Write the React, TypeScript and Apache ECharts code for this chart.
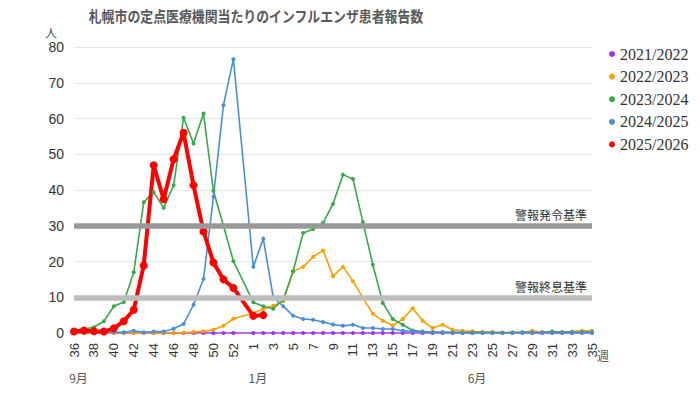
import React, { useEffect, useRef } from "react";
import * as echarts from "echarts";

const weeks: string[] = [
  "36","37","38","39","40","41","42","43","44","45","46","47","48","49","50","51","52","53",
  "1","2","3","4","5","6","7","8","9","10","11","12","13","14","15","16","17","18","19","20",
  "21","22","23","24","25","26","27","28","29","30","31","32","33","34","35",
];

const seriesNames = ["2021/2022", "2022/2023", "2023/2024", "2024/2025", "2025/2026"];
const seriesColors = ["#9b30ff", "#ff9f00", "#3aa84a", "#4a8fd6", "#ff0000"];

// weeks 36..53 (53 = no data), then 1..35
const s2021: (number | null)[] = [
  0,0,0,0,0,0,0,0,0,0,0,0,0,0,0,0,0,null,
  0,0,0,0,0,0,0,0,0,0,0,0,0,0,0,0,0,0,0,0,
  0,0,0,0,0,0,0,0,0,0,0,0,0,0,0,
];
const s2022: (number | null)[] = [
  0,0,0,0,0,0,0,0,0,0,0,0.1,0.3,0.45,0.9,2.0,4.0,null,
  5.6,6.7,7.6,8.9,17.3,18.5,21.3,23.1,15.9,18.5,14.5,9.8,5.4,3.4,2.1,3.9,6.9,3.4,1.4,2.3,
  0.9,0.6,0.5,0.3,0.3,0.1,0.1,0.1,0.6,0.2,0.2,0.3,0.4,0.6,0.6,
];
const s2023: (number | null)[] = [
  0.5,1.1,1.6,3.3,7.5,8.7,17.0,36.6,39.4,35.0,41.3,60.2,53.0,61.4,39.7,30.0,20.1,null,
  8.6,7.5,6.8,9.3,17.3,28.0,29.1,30.8,36.1,44.3,43.1,31.0,19.1,8.4,3.9,2.3,0.7,0.4,0.3,0.2,
  0.2,0.1,0.1,0.1,0.1,0.1,0.1,0.2,0.1,0.2,0.4,0.2,0.3,0.3,0.3,
];
const s2024: (number | null)[] = [
  0.3,0.3,0.2,0.2,0.3,0.2,0.65,0.2,0.4,0.4,1.2,2.5,7.9,15.1,38.1,63.7,76.6,null,
  18.5,26.4,10.0,7.5,4.8,3.9,3.7,3.1,2.4,2.0,2.3,1.4,1.4,1.1,1.1,0.6,0.5,0.3,0.2,0.2,
  0.1,0.1,0.1,0.1,0.1,0.0,0.1,0.1,0.1,0.1,0.1,0.1,0.1,0.1,0.1,
];
const s2025: (number | null)[] = [
  0.4,0.7,0.5,0.4,1.3,3.3,6.5,18.9,46.9,37.4,48.6,56.0,41.3,28.4,19.7,15.0,12.6,null,
  4.8,5.0,
];

const thresholdValues = [30, 10];
const thresholdLabels = ["警報発令基準", "警報終息基準"];
const thresholdColors = ["#999999", "#bdbdbd"];

const monthWeeks = ["36", "1", "23"];
const monthTexts = ["9月", "1月", "6月"];

const yTicks = { min: 0, max: 80, interval: 10 };

export default function App() {
  const ref = useRef<HTMLDivElement>(null);
  useEffect(() => {
    if (!ref.current) return;
    const chart = echarts.init(ref.current, null, { renderer: "svg" });
    const allData = [s2021, s2022, s2023, s2024, s2025];
    const series: any[] = allData.map((d, i) => {
      const isRed = i === 4;
      const s: any = {
        name: seriesNames[i],
        type: "line",
        data: d,
        connectNulls: true,
        symbol: "circle",
        symbolSize: isRed ? 8 : 4,
        showAllSymbol: true,
        itemStyle: { color: seriesColors[i] },
        lineStyle: { color: seriesColors[i], width: isRed ? 4 : 1.6 },
        emphasis: { disabled: true },
      };
      if (i === 3) {
        s.markLine = {
          silent: true,
          symbol: ["none", "none"],
          data: thresholdValues.map((v, k) => ({
            yAxis: v,
            lineStyle: { color: thresholdColors[k], width: 5.5, type: "solid" },
            label: {
              show: true,
              position: "insideEndTop",
              formatter: thresholdLabels[k],
              color: "#333",
              fontSize: 12,
              distance: 5,
              fontFamily: "Noto Sans CJK JP",
            },
          })),
        };
      }
      return s;
    });

    chart.setOption({
      animation: false,
      backgroundColor: "#ffffff",
      legend: {
        data: seriesNames,
        orient: "vertical",
        left: 604,
        top: 41,
        icon: "circle",
        itemWidth: 6,
        itemHeight: 6,
        itemGap: 6.6,
        textStyle: {
          fontFamily: "Liberation Serif",
          fontSize: 16,
          lineHeight: 16,
          color: "#333",
        },
      },
      grid: { left: 74, right: 108, top: 47, bottom: 61, containLabel: false },
      xAxis: [
        {
          type: "category",
          data: weeks,
          boundaryGap: false,
          axisLine: { show: true, lineStyle: { color: "#d0d0d0" } },
          axisTick: { show: false },
          axisLabel: {
            interval: 1,
            rotate: 90,
            margin: 10,
            fontSize: 13,
            color: "#333",
            fontFamily: "Liberation Sans",
          },
          splitLine: { show: false },
        },
        {
          type: "category",
          data: weeks,
          boundaryGap: false,
          position: "bottom",
          offset: 36,
          axisLine: { show: false },
          axisTick: { show: false },
          axisLabel: {
            interval: 0,
            margin: 2,
            fontSize: 12,
            color: "#555",
            padding: [0, 0, 0, 9],
            fontFamily: "Noto Sans CJK JP",
            formatter: (v: string) => {
              const k = monthWeeks.indexOf(v);
              return k >= 0 ? monthTexts[k] : "";
            },
          },
        },
      ],
      yAxis: {
        type: "value",
        min: yTicks.min,
        max: yTicks.max,
        interval: yTicks.interval,
        axisLine: { show: false },
        axisTick: { show: false },
        axisLabel: {
          fontSize: 14,
          color: "#333",
          margin: 10,
          fontFamily: "Liberation Sans",
        },
        splitLine: { lineStyle: { color: "#e6e6e6", width: 1 } },
      },
      graphic: [
        {
          type: "text",
          x: 256,
          y: 16,
          scaleX: 0.86,
          style: {
            text: "札幌市の定点医療機関当たりのインフルエンザ患者報告数",
            fontSize: 15,
            fontWeight: "bold",
            fill: "#595959",
            fontFamily: "Noto Sans CJK JP",
            textAlign: "center",
            textVerticalAlign: "middle",
          },
        },
        {
          type: "text",
          left: 45,
          top: 26,
          style: { text: "人", fontSize: 12, fill: "#555", fontFamily: "Noto Sans CJK JP" },
        },
        {
          type: "text",
          left: 597,
          top: 349,
          style: { text: "週", fontSize: 12, fill: "#555", fontFamily: "Noto Sans CJK JP" },
        },
      ],
      series,
    });
    return () => chart.dispose();
  }, []);
  return (
    <div
      ref={ref}
      style={{ position: "fixed", left: 0, top: 0, width: 700, height: 394 }}
    />
  );
}
